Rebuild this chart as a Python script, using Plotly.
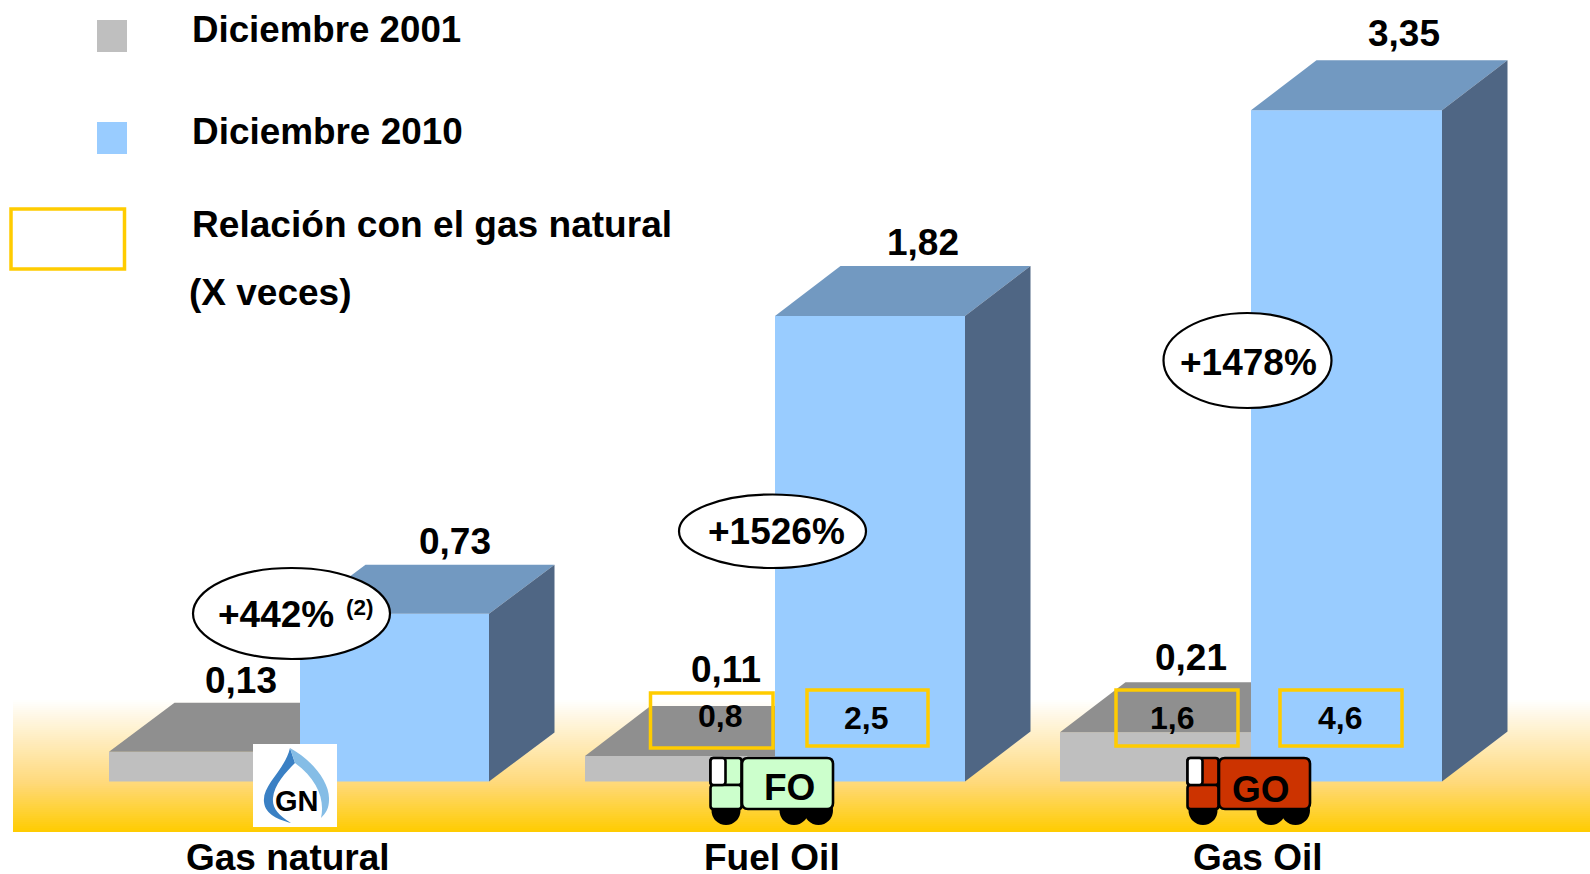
import plotly.graph_objects as go

W, H = 1590, 874

# ---- data ----
categories = ["Gas natural", "Fuel Oil", "Gas Oil"]
labels_2001 = [0.13, 0.11, 0.21]
labels_2010 = [0.73, 1.82, 3.35]
# heights of the drawn bars (the source chart is not to scale)
drawn_2001 = [0.148, 0.127, 0.246]
drawn_2010 = [0.837, 2.323, 3.350]
growth = ["+442%", "+1526%", "+1478%"]
ratio_2001 = [None, "0,8", "1,6"]
ratio_2010 = [None, "2,5", "4,6"]
legend_labels = ["Diciembre 2001", "Diciembre 2010", "Relación con el gas natural", "(X veces)"]

# ---- layout geometry ----
BASE_PX, UNIT_PX = 781.5, 200.4
left_2001 = [109, 585, 1060]
left_2010 = [300, 775, 1251]
widths_2010 = [189, 190, 191]
DX = 65.5
depths = [49 / UNIT_PX, 50 / UNIT_PX, 50 / UNIT_PX]

GRAY, GRAY_TOP = "#BFBFBF", "#8F8F8F"
BLUE, BLUE_TOP, BLUE_SIDE = "#99CCFF", "#7299C1", "#4F6684"
YELLOW = "#FFCC00"
FONT = "Liberation Sans"


def py(p):
    return 1 - p / H


def px(p):
    return p / W


def val(p):
    return (BASE_PX - p) / UNIT_PX


fig = go.Figure()

# ground gradient (heatmap so that it stays under the bars)
top_g, bot_g = 700, 832
edges = [val(top_g + i * 2) for i in range((bot_g - top_g) // 2 + 1)]
z = [[(i + 0.5) / (len(edges) - 1)] for i in range(len(edges) - 1)]
fig.add_trace(go.Heatmap(
    x=[13, W], y=edges, z=z, zmin=0, zmax=1, showscale=False, hoverinfo="skip",
    colorscale=[[0, "#FFFFFF"], [0.63, "#FFD97A"], [1, YELLOW]],
))

# front faces
fig.add_trace(go.Bar(
    x=[l + (r - l) / 2 for l, r in zip(left_2001, left_2010)], y=drawn_2001,
    width=[r - l for l, r in zip(left_2001, left_2010)],
    marker=dict(color=GRAY, line_width=0), name="Diciembre 2001", hoverinfo="skip",
))
fig.add_trace(go.Bar(
    x=[l + w / 2 for l, w in zip(left_2010, widths_2010)], y=drawn_2010, width=widths_2010,
    marker=dict(color=BLUE, line_width=0), name="Diciembre 2010", hoverinfo="skip",
))


def face(xs, ys, color):
    fig.add_trace(go.Scatter(
        x=xs, y=ys, mode="lines", fill="toself", fillcolor=color,
        line=dict(width=0, color=color), hoverinfo="skip", showlegend=False,
    ))


# 3D faces, derived from the same values
for l, r, h, d in zip(left_2001, left_2010, drawn_2001, depths):
    face([l, l + DX, r, r, l], [h, h + d, h + d, h, h], GRAY_TOP)
for l, w, h, d in zip(left_2010, widths_2010, drawn_2010, depths):
    r = l + w
    face([l, l + DX, r + DX, r, l], [h, h + d, h + d, h, h], BLUE_TOP)
    face([r, r + DX, r + DX, r, r], [0, d, h + d, h, 0], BLUE_SIDE)

shapes = []
ann = []


def text(t, x, y, size=37, anchor="center", color="black"):
    ann.append(dict(
        text=f"<b>{t}</b>", x=px(x), y=py(y), xref="paper", yref="paper", showarrow=False,
        xanchor=anchor, yanchor="middle", font=dict(family=FONT, size=size, color=color),
    ))


def rect(x0, y0, x1, y1, fill=None, line=None, lw=0):
    shapes.append(dict(
        type="rect", xref="paper", yref="paper", x0=px(x0), x1=px(x1), y0=py(y0), y1=py(y1),
        fillcolor=fill or "rgba(0,0,0,0)", line=dict(color=line or "rgba(0,0,0,0)", width=lw),
        layer="above",
    ))


def ellipse(x0, y0, x1, y1, fill="white", line="black", lw=2.2):
    shapes.append(dict(
        type="circle", xref="paper", yref="paper", x0=px(x0), x1=px(x1), y0=py(y0), y1=py(y1),
        fillcolor=fill, line=dict(color=line, width=lw), layer="above",
    ))


def path(d, fill, line=None, lw=0):
    out = []
    for tok in d:
        if isinstance(tok, str):
            out.append(tok)
        else:
            out.append(f"{px(tok[0]):.5f},{py(tok[1]):.5f}")
    shapes.append(dict(
        type="path", xref="paper", yref="paper", path=" ".join(out), fillcolor=fill,
        line=dict(color=line or "rgba(0,0,0,0)", width=lw), layer="above",
    ))


def rrect(x0, y0, x1, y1, r, fill, lw=2.6):
    path(["M", (x0 + r, y0), "L", (x1 - r, y0), "Q", (x1, y0), (x1, y0 + r),
          "L", (x1, y1 - r), "Q", (x1, y1), (x1 - r, y1),
          "L", (x0 + r, y1), "Q", (x0, y1), (x0, y1 - r),
          "L", (x0, y0 + r), "Q", (x0, y0), (x0 + r, y0), "Z"], fill, "black", lw)


def truck(x, color, label, label_x, label_y):
    for dx in (16.5, 84.5, 109):
        ellipse(x + dx - 14.5, 796, x + dx + 14.5, 825, fill="black", line="black", lw=0)
    rrect(x + 1, 758, x + 32, 785, 3, color)
    rrect(x + 1, 785, x + 32, 809, 3, color)
    rrect(x + 32.5, 758, x + 123.5, 809, 6, color)
    rrect(x + 1, 758, x + 16, 785, 3, "white")
    text(label, label_x, label_y)


# legend
rect(97, 20, 127, 52, fill=GRAY)
rect(97, 122, 127, 154, fill=BLUE)
rect(11, 209, 124.5, 269, line=YELLOW, lw=3.5)
text(legend_labels[0], 190, 29.5, size=36.7, anchor="left")
text(legend_labels[1], 190, 131, size=36.9, anchor="left")
text(legend_labels[2], 190, 224, size=37.1, anchor="left")
text(legend_labels[3], 187, 292, anchor="left")

# logo
rect(253, 744, 337, 827, fill="white")
path(["M", (290, 748), "C", (285, 770), (262, 785), (264, 802), "C", (265, 815), (280, 820), (291, 823),
      "C", (278, 815), (272, 808), (273, 798), "C", (274, 785), (286, 772), (295, 763), "Z"], "#3A80C4")
path(["M", (290, 748), "C", (312, 760), (330, 782), (329, 800), "C", (329, 808), (326, 813), (321, 818),
      "C", (325, 800), (318, 780), (295, 763), "Z"], "#85BDE6")
text("GN", 297, 801, size=29)

# ratio boxes
rect(650.5, 693, 773, 748, line=YELLOW, lw=3.5)
rect(807, 690, 928, 746, line=YELLOW, lw=3.5)
rect(1116, 690, 1238, 746, line=YELLOW, lw=3.5)
rect(1280, 690, 1402, 746, line=YELLOW, lw=3.5)
text(ratio_2001[1], 719.5, 716, size=32)
text(ratio_2010[1], 866, 718, size=32)
text(ratio_2001[2], 1172, 718, size=32)
text(ratio_2010[2], 1339.5, 718, size=32)

# trucks
truck(709.5, "#CCFFCC", "FO", 789.5, 787)
truck(1186.5, "#CC3300", "GO", 1260.5, 789)

# growth ellipses
ellipse(193, 568, 390, 659)
ellipse(679, 494.5, 866, 568)
ellipse(1163.5, 313, 1331.5, 408)
text(growth[0], 276, 614.5)
text("(2)", 359.5, 607, size=22.5)
text(growth[1], 776, 531)
text(growth[2], 1248, 362)


def fmt(v):
    return f"{v:.2f}".replace(".", ",")


# value labels
for v, x, y in zip(labels_2001, [241, 726, 1191], [680, 669, 657]):
    text(fmt(v), x, y)
for v, x, y in zip(labels_2010, [455, 923, 1404], [541.5, 242, 33.5]):
    text(fmt(v), x, y)

# category labels
for c, x in zip(categories, [287.5, 772, 1258]):
    text(c, x, 857.5)

fig.update_layout(
    width=W, height=H, autosize=False, margin=dict(l=0, r=0, t=0, b=0, pad=0),
    paper_bgcolor="white", plot_bgcolor="white", showlegend=False, barmode="overlay",
    xaxis=dict(range=[0, W], visible=False, fixedrange=True),
    yaxis=dict(range=[val(H), val(0)], visible=False, fixedrange=True),
    shapes=shapes, annotations=ann,
)
fig.write_html(
    "out.html", config=dict(displayModeBar=False),
    post_script="document.body.style.margin='0';document.body.style.overflow='hidden';",
)
